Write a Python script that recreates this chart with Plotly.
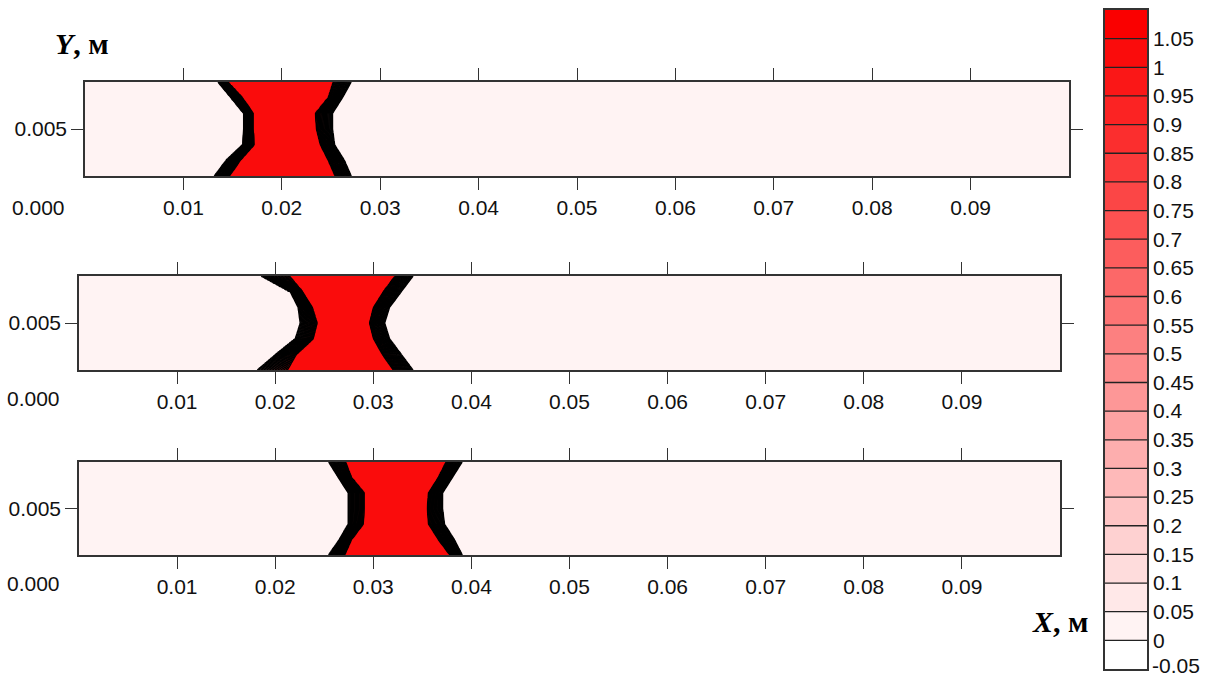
import numpy as np
import plotly.graph_objects as go

# ---------------- data ----------------
# contour levels shown on the colour bar
levels = [-0.05, 0.0, 0.05, 0.10, 0.15, 0.20, 0.25, 0.30, 0.35, 0.40, 0.45, 0.50,
          0.55, 0.60, 0.65, 0.70, 0.75, 0.80, 0.85, 0.90, 0.95, 1.00, 1.05]
level_labels = ["-0.05", "0", "0.05", "0.1", "0.15", "0.2", "0.25", "0.3", "0.35", "0.4",
                "0.45", "0.5", "0.55", "0.6", "0.65", "0.7", "0.75", "0.8", "0.85", "0.9",
                "0.95", "1", "1.05"]

x_ticks = [0.01, 0.02, 0.03, 0.04, 0.05, 0.06, 0.07, 0.08, 0.09]
x_tick_labels = ["0.01", "0.02", "0.03", "0.04", "0.05", "0.06", "0.07", "0.08", "0.09"]
y_ticks = [0.005]
y_tick_labels = ["0.005"]

# channel heights at which the interface was read (m)
y_rows = [0.002, 0.003, 0.004, 0.005, 0.006, 0.007, 0.008]

# volume fraction outside / inside the liquid slug
z_out = 0.02
z_in = 1.02

# interface positions (m): outer edge (fraction ~0) and inner edge (fraction ~1)
p1_left_outer = [0.0131, 0.0143, 0.0160, 0.0161, 0.0161, 0.0148, 0.0135]
p1_left_inner = [0.0147, 0.0158, 0.0172, 0.0171, 0.0171, 0.0160, 0.0145]
p1_right_inner = [0.0254, 0.0247, 0.0239, 0.0235, 0.0234, 0.0247, 0.0252]
p1_right_outer = [0.0271, 0.0264, 0.0254, 0.0252, 0.0252, 0.0262, 0.0271]

p2_left_outer = [0.0181, 0.0200, 0.0220, 0.0225, 0.0223, 0.0215, 0.0185]
p2_left_inner = [0.0213, 0.0222, 0.0239, 0.0243, 0.0238, 0.0228, 0.0215]
p2_right_inner = [0.0320, 0.0309, 0.0300, 0.0296, 0.0300, 0.0310, 0.0322]
p2_right_outer = [0.0341, 0.0329, 0.0317, 0.0312, 0.0317, 0.0329, 0.0341]

p3_left_outer = [0.0254, 0.0265, 0.0274, 0.0274, 0.0274, 0.0264, 0.0254]
p3_left_inner = [0.0271, 0.0278, 0.0290, 0.0291, 0.0291, 0.0278, 0.0272]
p3_right_inner = [0.0378, 0.0366, 0.0356, 0.0355, 0.0356, 0.0366, 0.0374]
p3_right_outer = [0.0391, 0.0383, 0.0373, 0.0371, 0.0371, 0.0381, 0.0391]

# ---------------- rendering ----------------
W, H = 1213, 679
x_grid = np.linspace(0.0, 0.1, 1001)
y_grid = np.linspace(0.002, 0.008, 61)


def build_field(lo, li, ri, ro):
    LO = np.interp(y_grid, y_rows, lo)
    LI = np.interp(y_grid, y_rows, li)
    RI = np.interp(y_grid, y_rows, ri)
    RO = np.interp(y_grid, y_rows, ro)
    z = np.empty((len(y_grid), len(x_grid)))
    for j in range(len(y_grid)):
        z[j] = np.interp(x_grid, [LO[j], LI[j], RI[j], RO[j]], [z_out, z_in, z_in, z_out])
    return np.round(z, 3)


# bin colours: white -> red
n_bins = len(levels)
bin_colors = []
for k in range(n_bins):
    if k == 0:
        bin_colors.append("rgb(255,255,255)")
    else:
        t = k / (n_bins - 1)
        r = 255 - t * (255 - 250)
        g = 255 * (1 - t)
        b = 255 * (1 - t)
        bin_colors.append(f"rgb({r:.0f},{g:.0f},{b:.0f})")

# step colourscale for contour fills (sample points at j/23, j = 0..23)
nseg = n_bins
step_cols = ["rgb(255,255,255)"] + bin_colors
cscale = []
for j, col in enumerate(step_cols):
    a = max(0.0, (j - 0.5) / nseg)
    b = min(1.0, (j + 0.5) / nseg)
    cscale.append([a, col])
    cscale.append([b, col])


def px_x(p):
    return p / W


def px_y(p):
    return 1 - p / H


panels = [
    (p1_left_outer, p1_left_inner, p1_right_inner, p1_right_outer, (85, 1069), (82, 176), 67, 207),
    (p2_left_outer, p2_left_inner, p2_right_inner, p2_right_outer, (79, 1060), (276, 370), 62, 398),
    (p3_left_outer, p3_left_inner, p3_right_inner, p3_right_outer, (79, 1060), (462, 555), 62, 583),
]

fig = go.Figure()
tick_font = dict(family="Liberation Sans, Arial, sans-serif", size=21, color="#111")
axis_col = "#333"
layout = {}
annotations = []

for i, (lo, li, ri, ro, xd, yd, lab_x, lab_y) in enumerate(panels, start=1):
    z = build_field(lo, li, ri, ro)
    fig.add_trace(go.Contour(
        x=x_grid, y=y_grid, z=z,
        contours=dict(start=levels[0], end=levels[-1], size=0.05, coloring="fill", showlines=True),
        line=dict(color="black", width=1.5, smoothing=0),
        colorscale=cscale, showscale=False, hoverinfo="skip",
        xaxis=f"x{i}", yaxis=f"y{i}",
    ))
    layout[f"xaxis{i}"] = dict(
        domain=[px_x(xd[0]), px_x(xd[1])], range=[0.0, 0.1], anchor=f"y{i}",
        tickvals=x_ticks, ticktext=x_tick_labels, ticks="outside", ticklen=12,
        tickwidth=1.2, tickcolor=axis_col, showline=True, linecolor=axis_col, linewidth=1.5,
        mirror="ticks", showgrid=False, zeroline=False, tickfont=tick_font,
    )
    layout[f"yaxis{i}"] = dict(
        domain=[px_y(yd[1]), px_y(yd[0])], range=[0.002, 0.008], anchor=f"x{i}",
        tickvals=y_ticks, ticktext=y_tick_labels, ticks="outside", ticklen=12,
        tickwidth=1.2, tickcolor=axis_col, showline=True, linecolor=axis_col, linewidth=1.5,
        mirror="ticks", showgrid=False, zeroline=False, tickfont=tick_font,
    )
    annotations.append(dict(
        text="0.000", xref="paper", yref="paper", x=px_x(lab_x), y=px_y(lab_y),
        xanchor="right", yanchor="middle", showarrow=False, font=tick_font,
    ))

# ---------------- colour bar ----------------
bin_centers = [l + 0.025 for l in levels]
fig.add_trace(go.Heatmap(
    x=[0.5], y=bin_centers, z=[[k] for k in range(n_bins)],
    zmin=0, zmax=n_bins - 1,
    colorscale=[[k / (n_bins - 1), c] for k, c in enumerate(bin_colors)],
    showscale=False, hoverinfo="skip", xaxis="x4", yaxis="y4",
))
layout["xaxis4"] = dict(
    domain=[px_x(1105), px_x(1147)], range=[0, 1], anchor="y4",
    showticklabels=False, ticks="", showline=True, mirror=True,
    linecolor=axis_col, linewidth=1.5, showgrid=False, zeroline=False,
)
layout["yaxis4"] = dict(
    domain=[px_y(669), px_y(10)], range=[levels[0], levels[-1] + 0.05], anchor="x4",
    side="right", tickvals=levels[1:], ticktext=level_labels[1:], ticks="",
    showline=True, mirror=True, linecolor=axis_col, linewidth=1.5,
    showgrid=False, zeroline=False, tickfont=tick_font,
)
# lowest colour-bar label sits at the very bottom edge of the figure
annotations.append(dict(
    text=level_labels[0], xref="paper", yref="paper", x=px_x(1150), y=0,
    xanchor="left", yanchor="bottom", showarrow=False, font=tick_font,
))
shapes = [dict(type="line", xref="x4", yref="y4", x0=0, x1=1, y0=l, y1=l,
               line=dict(color="#222", width=1.3)) for l in levels[1:]]

label_font = dict(family="Liberation Serif, Times New Roman, serif", size=30, color="black")
annotations.append(dict(text="<b><i>Y</i>, м</b>", xref="paper", yref="paper",
                        x=px_x(82), y=px_y(44), xanchor="center", yanchor="middle",
                        showarrow=False, font=label_font))
annotations.append(dict(text="<b><i>X</i>, м</b>", xref="paper", yref="paper",
                        x=px_x(1060), y=px_y(621), xanchor="center", yanchor="middle",
                        showarrow=False, font=label_font))

fig.update_layout(
    width=W, height=H, margin=dict(l=0, r=0, t=0, b=0),
    paper_bgcolor="white", plot_bgcolor="white", showlegend=False,
    annotations=annotations, shapes=shapes, **layout,
)

fig.write_html(
    "out.html",
    config={"displayModeBar": False},
    post_script="document.body.style.margin='0';document.body.style.overflow='hidden';",
)
